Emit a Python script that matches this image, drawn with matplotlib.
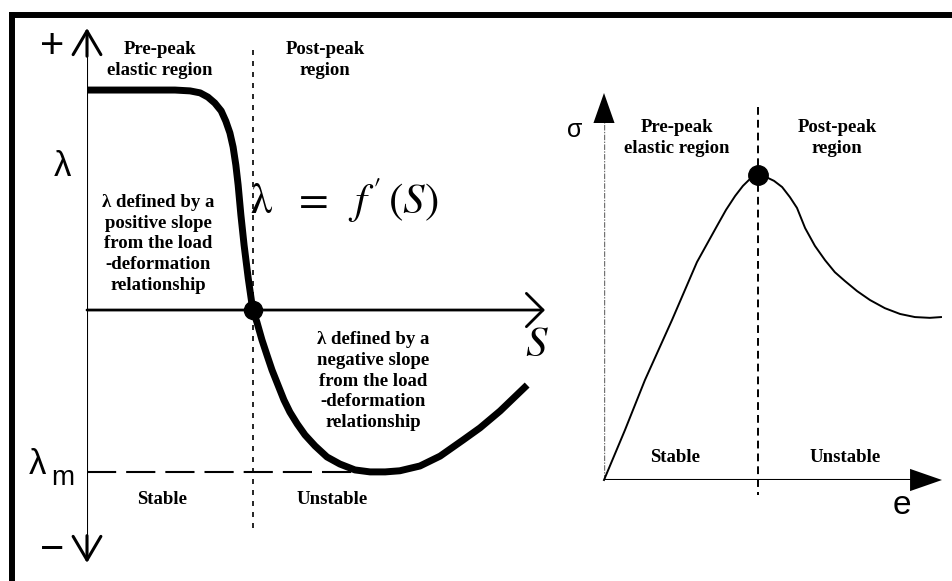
import matplotlib.pyplot as plt

plt.rcParams['mathtext.fontset'] = 'stix'

# left panel: stability coefficient lambda against displacement S
s_vals = [0.0, 0.192, 0.225, 0.247, 0.264, 0.279, 0.293, 0.303, 0.312, 0.319,
          0.325, 0.330, 0.336, 0.343, 0.352, 0.362, 0.371, 0.382, 0.393, 0.404,
          0.417, 0.430, 0.443, 0.459, 0.476, 0.498, 0.524, 0.552, 0.585, 0.618,
          0.651, 0.683, 0.727, 0.771, 0.821, 0.858, 0.902, 0.961]
lam_vals = [0.780, 0.780, 0.777, 0.770, 0.755, 0.734, 0.706, 0.670, 0.628, 0.578,
            0.514, 0.443, 0.337, 0.230, 0.113, 0.0, -0.043, -0.106, -0.160, -0.213,
            -0.266, -0.319, -0.362, -0.404, -0.443, -0.482, -0.521, -0.546, -0.567, -0.574,
            -0.574, -0.570, -0.553, -0.518, -0.461, -0.418, -0.358, -0.266]
s_cross = 0.362
lam_min = -0.574

# right panel: stress-strain curve
e_vals = [0.0, 0.062, 0.121, 0.201, 0.275, 0.308, 0.334, 0.361, 0.388, 0.411,
          0.432, 0.456, 0.479, 0.503, 0.527, 0.550, 0.571, 0.595, 0.624, 0.654,
          0.683, 0.713, 0.749, 0.787, 0.831, 0.876, 0.920, 0.964, 0.997]
sigma_vals = [0.0, 0.129, 0.258, 0.413, 0.563, 0.615, 0.656, 0.698, 0.734, 0.760,
              0.778, 0.788, 0.783, 0.773, 0.757, 0.731, 0.703, 0.651, 0.605, 0.568,
              0.537, 0.514, 0.488, 0.465, 0.444, 0.429, 0.421, 0.419, 0.421]
e_peak = 0.456
sigma_peak = 0.788

region_labels = ["Pre-peak\nelastic region", "Post-peak\nregion"]
state_labels = ["Stable", "Unstable"]
pos_note = "\u03bb defined by a\npositive slope\nfrom the load\n-deformation\nrelationship"
neg_note = "\u03bb defined by a\nnegative slope\nfrom the load\n-deformation\nrelationship"

W, H = 953, 581
fig = plt.figure(figsize=(W / 100, H / 100), dpi=100)

# background axes in pixel units for the frame and labels
bg = fig.add_axes([0, 0, 1, 1])
bg.set_xlim(0, W)
bg.set_ylim(H, 0)
bg.axis('off')
bg.plot([9, W], [15, 15], color='black', lw=4.3, solid_capstyle='butt')
bg.plot([12, 12], [12, H], color='black', lw=4.3, solid_capstyle='butt')

serif = dict(family='Liberation Serif', weight='bold', fontsize=13.5,
             ha='center', va='center', linespacing=1.3)
sans = dict(family='Liberation Sans', ha='center', va='center')

# left panel
ax1 = fig.add_axes([87 / W, (H - 563) / H, 458 / W, 535 / H])
ax1.set_xlim(0, 1)
ax1.set_ylim(-0.897, 1.0)
ax1.axis('off')
ax1.patch.set_alpha(0)

ax1.plot([0, 0], [-0.88, 0.98], color='black', lw=1.5)
ax1.annotate('', xy=(0, 1.0), xytext=(0, 0.9),
             arrowprops=dict(arrowstyle='->,head_length=0.85,head_width=0.5',
                             lw=2.2, color='black', mutation_scale=20,
                             shrinkA=0, shrinkB=0))
ax1.annotate('', xy=(0, -0.897), xytext=(0, -0.8),
             arrowprops=dict(arrowstyle='->,head_length=0.85,head_width=0.5',
                             lw=2.2, color='black', mutation_scale=20,
                             shrinkA=0, shrinkB=0))
ax1.annotate('', xy=(1.0, 0), xytext=(0, 0),
             arrowprops=dict(arrowstyle='->,head_length=0.6,head_width=0.6',
                             lw=2.0, color='black', mutation_scale=20,
                             shrinkA=0, shrinkB=0))

ax1.plot([s_cross, s_cross], [0.922, -0.791], color='black', lw=1.2,
         linestyle=(0, (3, 3.6)))
ax1.plot([0, 0.62], [lam_min, lam_min], color='black', lw=1.5,
         linestyle=(0, (14, 4.8)))
ax1.plot(s_vals, lam_vals, color='black', lw=5, solid_capstyle='butt',
         solid_joinstyle='round')
ax1.plot([s_cross], [0], 'o', color='black', markersize=13)

bg.text(160, 60, region_labels[0], **serif)
bg.text(325, 60, region_labels[1], **serif)
bg.text(158, 244, pos_note, **serif)
bg.text(373, 381, neg_note, **serif)
bg.text(162, 500, state_labels[0], **serif)
bg.text(332, 500, state_labels[1], **serif)
bg.text(250, 200, r"$\mathrm{\lambda}\ \ =\ \ f\,'\,(S)$", fontsize=31,
        ha='left', va='center')
bg.text(537, 344, r"$S$", fontsize=31, ha='center', va='center')
bg.text(52, 47, "+", fontsize=30, **sans)
bg.text(52, 550, "\u2212", fontsize=30, **sans)
bg.text(62, 167, "\u03bb", fontsize=25, **sans)
bg.text(37, 465, "\u03bb", fontsize=25, **sans)
bg.text(63, 478, "m", fontsize=20, **sans)

# right panel
ax2 = fig.add_axes([604 / W, (H - 480) / H, 338 / W, 387 / H])
ax2.set_xlim(0, 1)
ax2.set_ylim(0, 1)
ax2.axis('off')
ax2.patch.set_alpha(0)

ax2.plot([0, 0], [0, 0.93], color='0.45', lw=1.0, linestyle=(0, (4, 1, 1, 1)))
ax2.annotate('', xy=(0, 1.0), xytext=(0, 0.9),
             arrowprops=dict(arrowstyle='-|>,head_length=1.08,head_width=0.38',
                             lw=0, color='black', mutation_scale=20,
                             shrinkA=0, shrinkB=0))
ax2.plot([0, 0.95], [0, 0], color='black', lw=1.5)
ax2.annotate('', xy=(1.0, 0), xytext=(0.9, 0),
             arrowprops=dict(arrowstyle='-|>,head_length=1.15,head_width=0.4',
                             lw=0, color='black', mutation_scale=20,
                             shrinkA=0, shrinkB=0))

ax2.plot([e_peak, e_peak], [0.964, -0.039], color='black', lw=1.4,
         linestyle=(0, (4, 2.6)), clip_on=False)
ax2.plot(e_vals, sigma_vals, color='black', lw=1.4, clip_on=False)
ax2.plot([e_peak], [sigma_peak], 'o', color='black', markersize=14, clip_on=False)

bg.text(677, 138, region_labels[0], **serif)
bg.text(837, 138, region_labels[1], **serif)
bg.text(675, 457, state_labels[0], **serif)
bg.text(845, 457, state_labels[1], **serif)
bg.text(575, 130, "\u03c3", fontsize=18, **sans)
bg.text(902, 505, "e", fontsize=24, **sans)

fig.savefig('out.png', dpi=100)
